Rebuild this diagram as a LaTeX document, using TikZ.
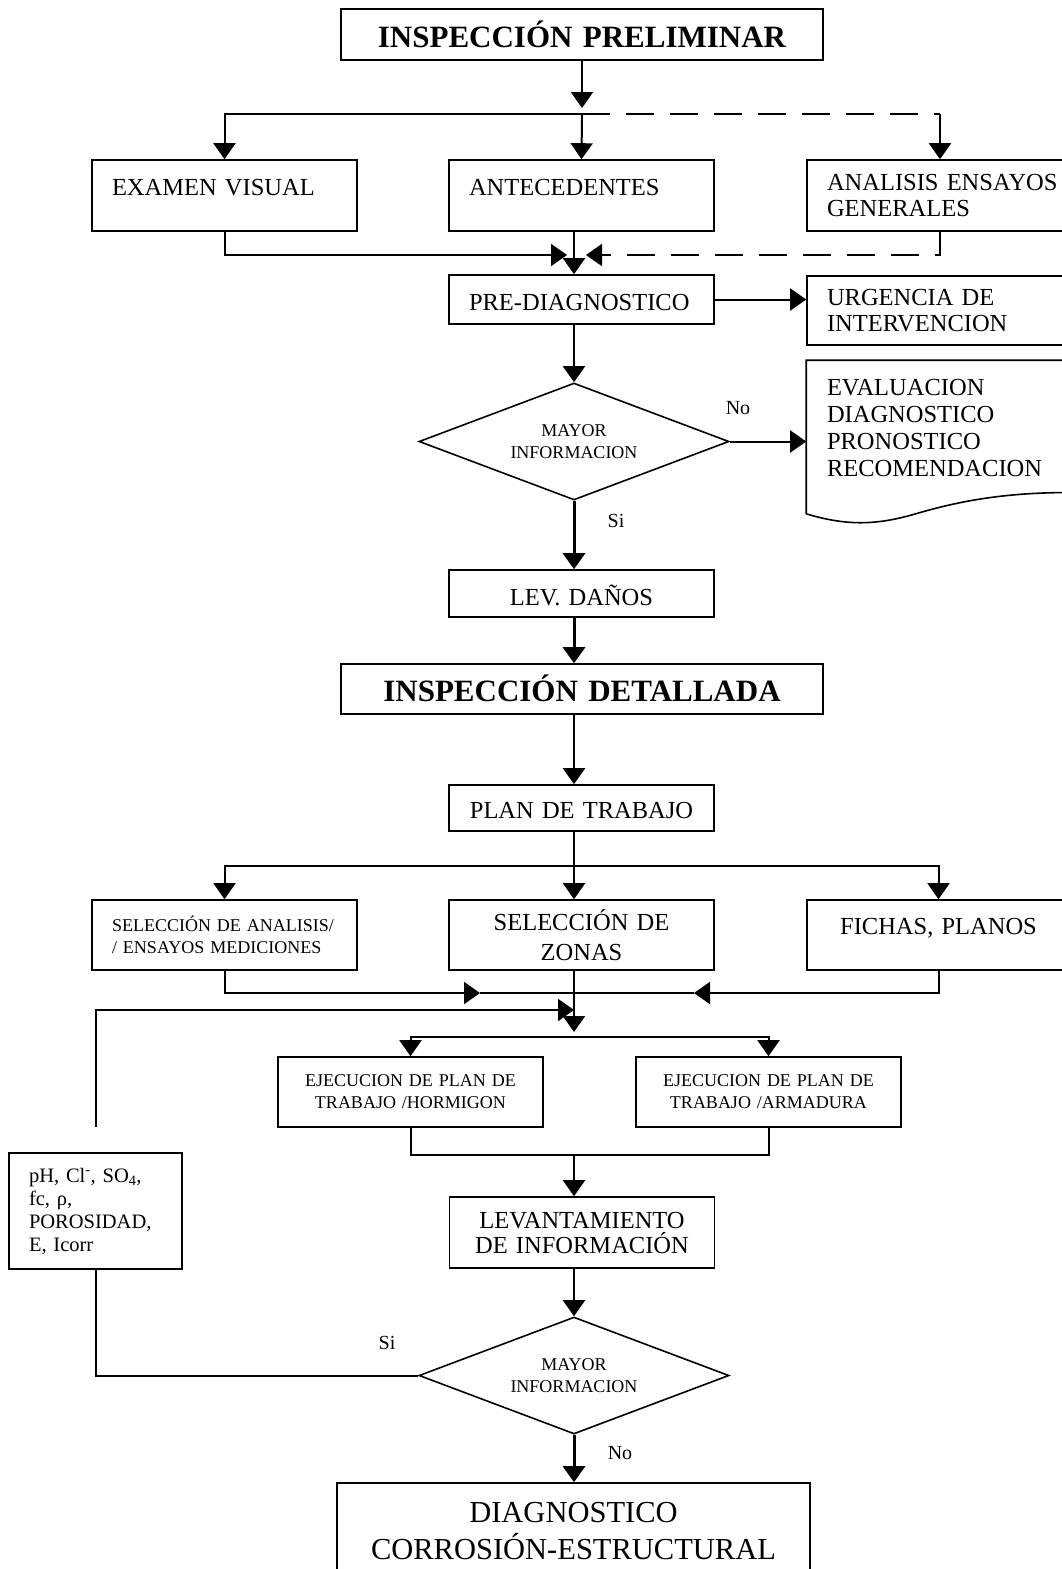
\documentclass[tikz,border=0pt]{standalone}
\usepackage{fontspec}
\setmainfont{Liberation Serif}
\usetikzlibrary{arrows.meta, shapes.geometric, calc}

\begin{document}
\begin{tikzpicture}[
  x=1pt, y=-1pt,
  >={Triangle[length=16pt, width=22pt]},
  every node/.style={font=\fontsize{24.5}{26}\selectfont}
]
\tikzset{
  box/.style   ={draw=black, line width=1.6pt, inner xsep=20pt,
                 inner ysep=0pt, align=left},
  wbox/.style  ={box, text width=225pt, minimum width=265pt},
  ebox/.style  ={box, text width=240pt, minimum width=280pt},
  hbox/.style  ={box, text width=442pt, minimum width=482pt, align=center,
                 font=\bfseries\fontsize{31}{35}\selectfont},
  capl/.style  ={text height=16pt, text depth=0pt},
  sml/.style   ={font=\fontsize{18}{22}\selectfont},
  ask/.style   ={diamond, draw=black, line width=1.6pt, inner sep=0pt,
                 aspect=2.65, minimum width=310pt, minimum height=117pt,
                 align=center, sml},
  arr/.style   ={->, line width=2pt},
  tarr/.style  ={->, line width=3pt},
  ln/.style    ={line width=2pt},
  dln/.style   ={line width=2pt, dash pattern=on 28pt off 16pt},
  lab/.style   ={font=\fontsize{20}{22}\selectfont, inner sep=0pt}
}

\useasboundingbox (0,0) rectangle (1062,1569);
\coordinate (axis) at (574,0);

%% ----- Inspeccion preliminar -----
\node[hbox, minimum height=51pt, text height=25pt, text depth=0pt] (prelim)
  at (582,34.5) {INSPECCIÓN PRELIMINAR};

\node[wbox, minimum height=71pt, capl, text depth=17pt] (visual)
  at (224.5,195.5) {EXAMEN VISUAL};
\node[wbox, minimum height=71pt, capl, text depth=17pt] (antec)
  at (581.5,195.5) {ANTECEDENTES};
\node[ebox, minimum height=71pt] (analisis)
  at (947,195.5) {ANALISIS ENSAYOS\\GENERALES};

\coordinate (s1) at (582,114);
\draw[arr, shorten >=6pt] (prelim.south) -- (s1);
\draw[arr] (s1) -| (visual.north);
\draw[arr] (s1) -- (antec.north);
\draw[dln] (s1) -- (s1 -| 940,0);
\draw[arr] (s1 -| 940,0) -- (analisis.north -| 940,0);

%% ----- Pre-diagnostico -----
\node[wbox, minimum height=49pt, capl, text height=21pt] (prediag)
  at (581.5,299.5) {PRE-DIAGNOSTICO};
\coordinate (m1) at (574,255);
\draw[arr] (visual.south) |- ([xshift=-7pt]m1);
\draw[dln, ->] (analisis.south -| 940,0) |- ([xshift=12pt]m1);
\draw[arr] (antec.south -| axis) -- (prediag.north -| axis);

\node[ebox, minimum height=69pt] (urgencia)
  at (947,310.5) {URGENCIA DE\\INTERVENCION};
\draw[arr] (prediag.east) -- (prediag.east -| urgencia.west);

%% ----- Decision 1 -----
\node[ask] (dec1) at (574,441.5) {MAYOR\\INFORMACION};
\draw[arr] (prediag.south -| axis) -- (dec1.north);

\node[ebox, draw=none, minimum height=134pt,
      font=\fontsize{24.5}{27.3}\selectfont] (eval)
  at (947,428) {EVALUACION\\DIAGNOSTICO\\PRONOSTICO\\RECOMENDACION};
\draw[line width=1.6pt] ([yshift=-18pt]eval.south west) -- (eval.north west)
  -- (eval.north east) -- ([yshift=3pt]eval.south east)
  .. controls ($(eval.south east)+(-77,-5)$) and ($(eval.south east)+(-127,5)$)
  .. ($(eval.south west)+(113,17)$)
  .. controls ($(eval.south west)+(73,29)$) and ($(eval.south west)+(43,31)$)
  .. ([yshift=-18pt]eval.south west);
\draw[arr] (dec1.east) -- (dec1.east -| eval.west);
\node[lab] (no1) at (738,408) {No};

\node[wbox, align=center, minimum height=47pt, capl, text height=23pt] (levdanos)
  at (581.5,593.5) {LEV. DAÑOS};
\draw[tarr] (dec1.south) -- (levdanos.north -| axis);
\node[lab] (si1) at (616,521) {Si};

%% ----- Inspeccion detallada -----
\node[hbox, minimum height=50pt, text height=25pt, text depth=0pt] (detallada)
  at (582,689) {INSPECCIÓN DETALLADA};
\draw[tarr] (levdanos.south -| axis) -- (detallada.north -| axis);

\node[wbox, align=center, minimum height=46pt, capl, text height=20pt] (plan)
  at (581.5,808) {PLAN DE TRABAJO};
\draw[arr] (detallada.south -| axis) -- (plan.north -| axis);

\node[wbox, sml, minimum height=70pt] (selanal)
  at (224.5,935) {SELECCIÓN DE ANALISIS/\\/ ENSAYOS MEDICIONES};
\node[wbox, align=center, minimum height=70pt,
      font=\fontsize{24.5}{30}\selectfont] (selzonas)
  at (581.5,935) {SELECCIÓN DE\\ZONAS};
\node[box, align=center, text width=223pt, minimum width=263pt,
      minimum height=70pt, capl, text depth=18pt] (fichas)
  at (938.5,935) {FICHAS, PLANOS};

\coordinate (s2) at (574,866);
\draw[ln] (plan.south -| axis) -- (s2);
\draw[arr] (s2) -| (selanal.north);
\draw[arr] (s2) -- (selzonas.north -| axis);
\draw[arr] (s2) -| (fichas.north);

\coordinate (ml) at (480,993);
\coordinate (mr) at (694,993);
\draw[arr] (selanal.south) |- (ml);
\draw[arr] (fichas.south) |- (mr);
\draw[ln] (ml) -- (mr);

%% ----- Ejecucion -----
\coordinate (s3) at (574,1037);
\draw[arr, shorten >=5pt] (selzonas.south -| axis) -- (s3);

\node[wbox, sml, align=center, minimum height=70pt] (ejhorm)
  at (410.5,1092) {EJECUCION DE PLAN DE\\TRABAJO /HORMIGON};
\node[wbox, sml, align=center, minimum height=70pt] (ejarm)
  at (768.5,1092) {EJECUCION DE PLAN DE\\TRABAJO /ARMADURA};
\draw[arr] (s3) -| (ejhorm.north);
\draw[arr] (s3) -| (ejarm.north);

\coordinate (m3) at (574,1155);
\draw[ln] (ejhorm.south) |- (m3) -| (ejarm.south);

\node[wbox, align=center, minimum height=71pt,
      font=\fontsize{24.5}{25}\selectfont] (levinfo)
  at (582,1232.5) {LEVANTAMIENTO\\DE INFORMACIÓN};
\draw[arr] (m3) -- (levinfo.north -| axis);

%% ----- Decision 2 and loop -----
\node[ask] (dec2) at (574,1375.5) {MAYOR\\INFORMACION};
\draw[arr] (levinfo.south -| axis) -- (dec2.north);
\node[lab] (si2) at (387,1343) {Si};
\node[lab] (no2) at (620,1453) {No};

\node[box, text width=133pt, minimum width=173pt, minimum height=116pt,
      font=\fontsize{20.5}{23}\selectfont] (ph)
  at (95.5,1211) {pH, Cl\textsuperscript{-}, SO\textsubscript{4},\\fc, ρ,\\POROSIDAD,\\E, Icorr};
\draw[ln] (dec2.west) -| (ph.south);
\coordinate (lp) at ([yshift=25pt]ph.north);
\coordinate (r1) at (574,1010);
\draw[arr] (lp) |- (r1);

%% ----- Diagnostico -----
\node[box, align=center, text width=433pt, minimum width=473pt,
      minimum height=97pt, font=\fontsize{30.5}{37}\selectfont] (diag)
  at (573.5,1531.5) {DIAGNOSTICO\\CORROSIÓN-ESTRUCTURAL};
\draw[tarr] (dec2.south) -- (diag.north -| axis);

\end{tikzpicture}
\end{document}
